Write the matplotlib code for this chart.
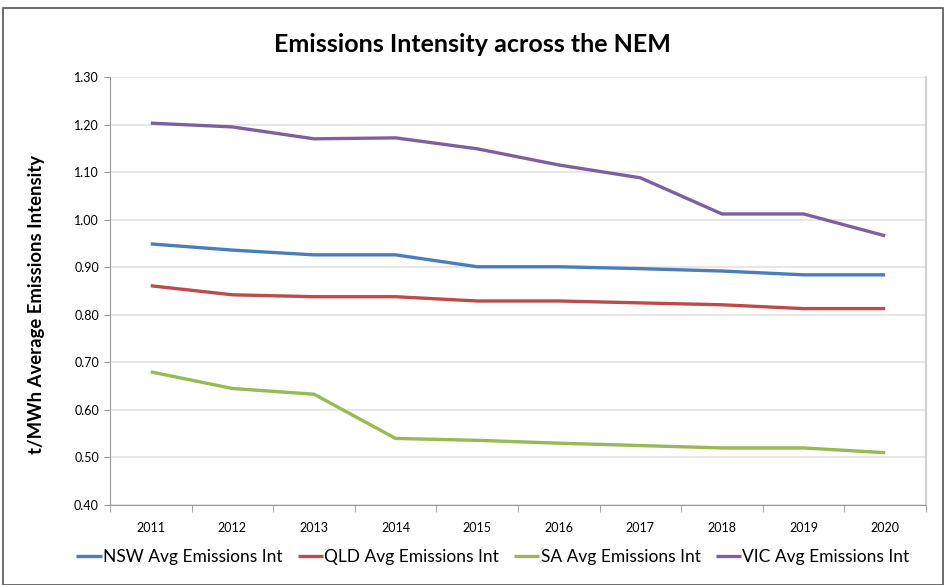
import numpy as np
import matplotlib; matplotlib.use("Agg")
import matplotlib.pyplot as plt
from matplotlib.patches import Rectangle

years = ["2011", "2012", "2013", "2014", "2015", "2016", "2017", "2018", "2019", "2020"]
nsw = [0.949, 0.936, 0.926, 0.926, 0.901, 0.901, 0.897, 0.892, 0.884, 0.884]
qld = [0.861, 0.842, 0.838, 0.838, 0.829, 0.829, 0.825, 0.821, 0.813, 0.813]
sa = [0.680, 0.645, 0.633, 0.540, 0.536, 0.530, 0.525, 0.520, 0.520, 0.510]
vic = [1.203, 1.195, 1.170, 1.172, 1.149, 1.115, 1.088, 1.012, 1.012, 0.966]
labels = ["NSW Avg Emissions Int", "QLD Avg Emissions Int", "SA Avg Emissions Int", "VIC Avg Emissions Int"]
colors = ["#4a7ebb", "#be4b48", "#98b954", "#7d60a0"]

plt.rcParams['font.family'] = ['Lato', 'DejaVu Sans']
fig = plt.figure(figsize=(9.45, 5.85), dpi=100)
fig.patches.append(Rectangle((3/945, 0), 940/945, 1 - 8/585, transform=fig.transFigure,
                             fill=False, ec="#555555", lw=1.2))
ax = fig.add_axes([110/945, 1 - 505/585, 816/945, 428/585])
x = np.arange(len(years))
for s, lab, c in zip([nsw, qld, sa, vic], labels, colors):
    ax.plot(x, s, color=c, lw=2.4, label=lab, solid_capstyle='butt')

ax.set_xlim(-0.5, len(years) - 0.5)
ax.set_ylim(0.40, 1.30)
yt = np.arange(0.40, 1.31, 0.10)
ax.set_yticks(yt)
ax.set_yticklabels([f"{v:.2f}" for v in yt], fontsize=9)
ax.set_xticks(x)
ax.set_xticklabels(years, fontsize=9)
ax.set_xticks(np.arange(-0.5, len(years)), minor=True)
ax.tick_params(axis='x', which='major', length=0, pad=12)
ax.tick_params(axis='x', which='minor', length=5, color="#999999")
ax.tick_params(axis='y', length=4, color="#999999", pad=4)
ax.grid(axis='y', color="#e3e3e3", lw=1.2)
ax.set_axisbelow(True)
for sp in ["left", "bottom"]:
    ax.spines[sp].set_color("#9a9a9a")
ax.spines["right"].set_color("#d0d0d0")
ax.spines["right"].set_linewidth(1.5)
ax.spines["top"].set_visible(False)

fig.text(0.5, 1 - 45/585, "Emissions Intensity across the NEM", ha='center', va='center',
         fontsize=18, fontweight='bold')
fig.text(37/945, 1 - 304/585, "t/MWh Average Emissions Intensity", rotation=90,
         ha='center', va='center', fontsize=13.3, fontweight='bold')
fig.legend(loc='center', bbox_to_anchor=(493/945, 1 - 557/585), ncol=4, frameon=False,
           fontsize=12.5, handlelength=1.45, handletextpad=0.1, columnspacing=0.85)
fig.savefig("out.png", dpi=100)
